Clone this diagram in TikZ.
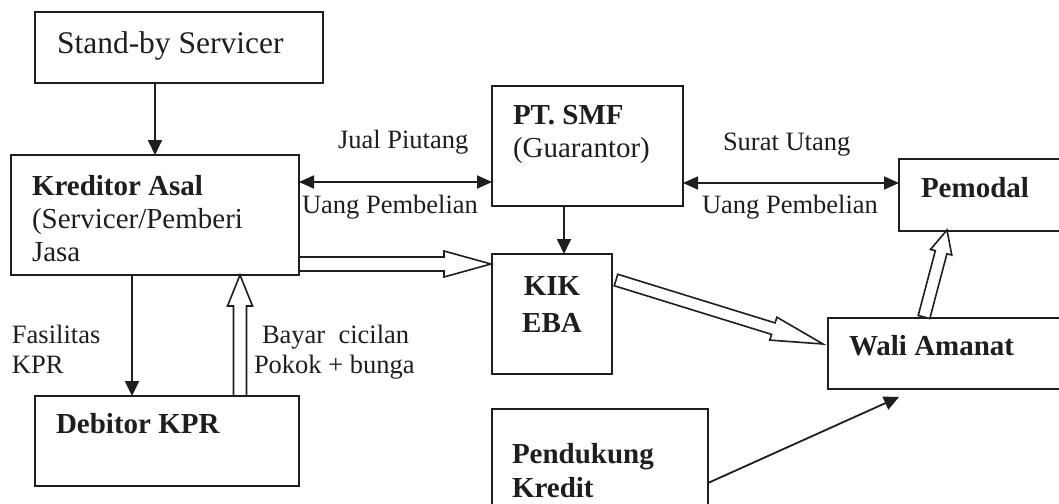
\documentclass[tikz,border=0pt]{standalone}
\usepackage{fontspec}
\setmainfont{Liberation Serif}
\usetikzlibrary{arrows.meta,calc}
\definecolor{ink}{HTML}{1E1E1E}
\newcommand{\hollowarrow}[5]{%
  \coordinate (hm) at ($(#2)!#3pt!(#1)$);
  \draw[hollow] ($(#1)!#4pt!90:(#2)$) -- ($(hm)!#4pt!-90:(#1)$) -- ($(hm)!#5pt!-90:(#1)$) -- (#2)
    -- ($(hm)!#5pt!90:(#1)$) -- ($(hm)!#4pt!90:(#1)$) -- ($(#1)!#4pt!-90:(#2)$) -- cycle;
}
\tikzset{
  box/.style={draw=ink, line width=1.8pt, rectangle, inner sep=0pt, outer sep=0pt, fill=none},
  txt/.style={anchor=base west, inner sep=0pt, outer sep=0pt, text=ink, font=\fontsize{29}{33}\selectfont},
  btxt/.style={txt, font=\fontsize{29}{33}\selectfont\bfseries},
  lbl/.style={txt, font=\fontsize{26.5}{30}\selectfont},
  arr/.style={draw=ink, line width=1.8pt, -{Triangle[length=15pt,width=14pt]}},
  darr/.style={draw=ink, line width=1.8pt, {Triangle[length=15pt,width=13pt]}-{Triangle[length=15pt,width=13pt]}},
  hollow/.style={draw=ink, fill=white, line width=1.6pt, line join=miter}
}
\begin{document}
\begin{tikzpicture}[x=1pt,y=-1pt]
\useasboundingbox (0,0) rectangle (1059,503);
\clip (0,0) rectangle (1059,503);
\fill[white] (0,0) rectangle (1059,503);

% boxes
\node[box, minimum width=288pt, minimum height=71pt]  (sb)  at (179,47.5) {};
\node[box, minimum width=288pt, minimum height=120pt] (ka)  at (155,215) {};
\node[box, minimum width=191pt, minimum height=120pt] (pt)  at (587.5,146) {};
\node[box, minimum width=181pt, minimum height=72pt]  (pm)  at (989.5,195) {};
\node[box, minimum width=120pt, minimum height=120pt] (kik) at (552,314) {};
\node[box, minimum width=252pt, minimum height=71pt]  (wa)  at (954,353.5) {};
\node[box, minimum width=264pt, minimum height=90pt]  (db)  at (167,441) {};
\node[box, minimum width=216pt, minimum height=121pt] (pk)  at (600,469.5) {};

% box texts
\node[txt, font=\fontsize{31.5}{35}\selectfont] (sbt) at (57,53) {Stand-by Servicer};
\node[btxt] (ka1) at (32,195) {Kreditor Asal};
\node[txt]  (ka2) at (32,228) {(Servicer/Pemberi};
\node[txt]  (ka3) at (32,261) {Jasa};
\node[btxt] (pt1) at (513,124) {PT. SMF};
\node[txt]  (pt2) at (513,157) {(Guarantor)};
\node[btxt] (pmt) at (921,197) {Pemodal};
\node[btxt, anchor=base] (kik1) at (552,295) {KIK};
\node[btxt, anchor=base] (kik2) at (552,332) {EBA};
\node[btxt] (wat) at (849,355) {Wali Amanat};
\node[btxt] (dbt) at (56,433) {Debitor KPR};
\node[btxt] (pk1) at (512,463) {Pendukung};
\node[btxt] (pk2) at (512,497) {Kredit};

% labels
\node[lbl] (l1) at (338,148) {Jual Piutang};
\node[lbl] (l2) at (302,213) {Uang Pembelian};
\node[lbl] (l3) at (723,150) {Surat Utang};
\node[lbl] (l4) at (702,213) {Uang Pembelian};
\node[lbl] (l5) at (12,343) {Fasilitas};
\node[lbl] (l6) at (12,373) {KPR};
\node[lbl] (l7) at (262,343) {Bayar\ \ cicilan};
\node[lbl] (l8) at (254,373) {Pokok + bunga};

% helper coordinates
\coordinate (r182) at (0,182);
\coordinate (r183) at (0,183);
\coordinate (c564) at (564,0);
\coordinate (c132) at (132,0);
\coordinate (c240) at (240,0);
\coordinate (r264) at (0,264);
\coordinate (kikout) at (616,280);
\coordinate (wain) at (823,344);
\coordinate (waout) at (924,317);
\coordinate (pmin) at (947,230);
\coordinate (pkout) at (708,483);
\coordinate (wabot) at (899,397);

% connectors
\draw[arr] (ka.north |- sb.south) -- (ka.north);
\draw[darr] (ka.east |- r182) -- (pt.west |- r182);
\draw[darr] (pt.east |- r183) -- (pm.west |- r183);
\draw[arr] (pt.south -| c564) -- (kik.north -| c564);
\draw[arr] (ka.south -| c132) -- (db.north -| c132);
\draw[arr] (pkout) -- (wabot);

\coordinate (h1a) at (ka.east |- r264);
\coordinate (h1b) at ($(kik.west |- r264)+(-1,0)$);
\hollowarrow{h1a}{h1b}{47}{7}{13}
\coordinate (h2a) at (db.north -| c240);
\coordinate (h2b) at (ka.south -| c240);
\hollowarrow{h2a}{h2b}{31}{6.5}{12.5}
\hollowarrow{kikout}{wain}{52}{6}{12}
\hollowarrow{waout}{pmin}{23}{6}{11}
\end{tikzpicture}
\end{document}
